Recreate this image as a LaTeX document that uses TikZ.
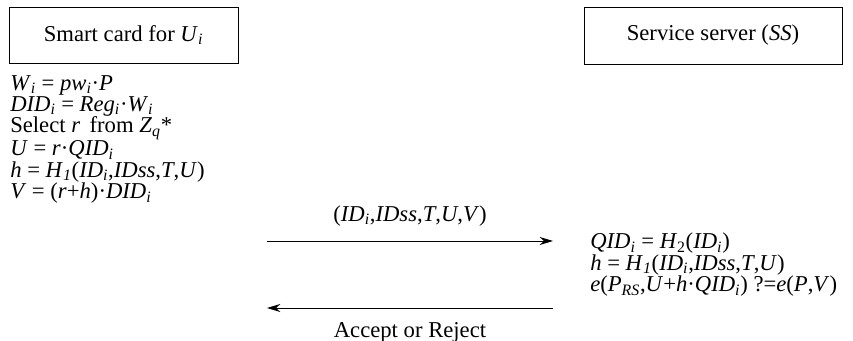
\documentclass[tikz,border=0pt]{standalone}
\usepackage{fontspec}
\setmainfont{Liberation Serif}
\usepackage{tikz}
\usetikzlibrary{arrows.meta}

\newcommand{\iv}[1]{\textit{#1}}
\newcommand{\sbi}[1]{\textsubscript{\textit{#1}}}

\tikzset{
  steps/.style={anchor=north west,inner sep=0pt,align=left,font=\fontsize{17}{16}\selectfont},
  msg/.style={-{Stealth[length=10pt,width=6pt]},line width=0.7pt}
}

\begin{document}
\begin{tikzpicture}[x=0.75pt,y=0.75pt,yscale=-1,xscale=1]
        \useasboundingbox (0,0) rectangle (853,341);
        \fontsize{17}{16}\selectfont
        % parties
        \draw (9,7) rectangle (238,63);
        \node (cardbox) at (123.5,35) {Smart card for \iv{U}\sbi{i}};
        \draw (584,7) rectangle (842,64);
        \node (serverbox) at (713,35.5) {Service server (\iv{SS})};

        % steps of the card
        \node (cardsteps) [steps] at (10,75) {\iv{W}\sbi{i} = \iv{pw}\sbi{i}·\iv{P}\\
          \iv{DID}\sbi{i} = \iv{Reg}\sbi{i}·\iv{W}\sbi{i}\\
          Select \iv{r}\, from \iv{Z}\sbi{q}*\\
          \iv{U} = \iv{r}·\iv{QID}\sbi{i}\\
          \iv{h} = \iv{H}\sbi{1}(\iv{ID}\sbi{i},\iv{IDss},\iv{T},\iv{U})\\
          \iv{V} = (\iv{r}+\iv{h})·\iv{DID}\sbi{i}};

        % steps of the server
        \node (serversteps) [steps] at (590,233) {\iv{QID}\sbi{i} = \iv{H}\textsubscript{2}(\iv{ID}\sbi{i})\\
          \iv{h} = \iv{H}\sbi{1}(\iv{ID}\sbi{i},\iv{IDss},\iv{T},\iv{U})\\
          \iv{e}(\iv{P}\textsubscript{\iv{RS}},\iv{U}+\iv{h}·\iv{QID}\sbi{i}) ?=\iv{e}(\iv{P},\iv{V})};

        % messages
        \coordinate (sendA) at (267,241);
        \coordinate (sendB) at (553,241);
        \coordinate (backA) at (553,308);
        \coordinate (backB) at (267,308);
        \draw [msg] (sendA) -- (sendB) node [midway,above=5pt] {(\iv{ID}\sbi{i},\iv{IDss},\iv{T},\iv{U},\iv{V})};
        \draw [msg] (backA) -- (backB) node [midway,below=5pt] {Accept or Reject};
\end{tikzpicture}
\end{document}
